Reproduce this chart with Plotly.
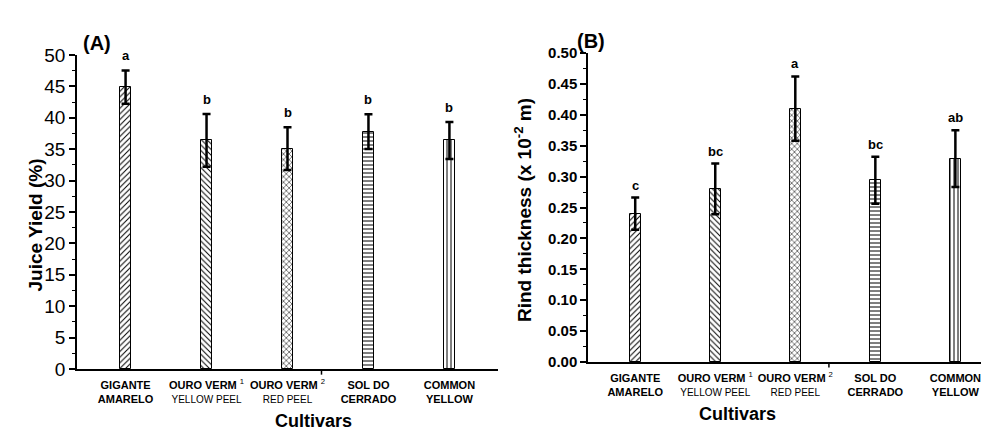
import plotly.graph_objects as go

cultivars = ["<b>GIGANTE</b><br><b>AMARELO</b>",
             "<b>OURO VERM </b><sup>1</sup><br><span style='font-size:10px'>YELLOW PEEL</span>",
             "<b>OURO VERM </b><sup>2</sup><br><span style='font-size:10px'>RED PEEL</span>",
             "<b>SOL DO</b><br><b>CERRADO</b>",
             "<b>COMMON</b><br><b>YELLOW</b>"]
cat_pos = [0, 1, 2, 3, 4]
juice = [44.9, 36.4, 35.1, 37.8, 36.4]
juice_err = [2.65, 4.2, 3.4, 2.75, 2.95]
juice_letters = ["a", "b", "b", "b", "b"]
rind = [0.240, 0.280, 0.410, 0.294, 0.329]
rind_err = [0.026, 0.041, 0.052, 0.038, 0.046]
rind_letters = ["c", "bc", "a", "bc", "ab"]
patterns = ["/", "\\", "x", "-", "|"]
FONT = "Liberation Sans, Arial, sans-serif"

# page body has an 8px margin: figure drawn at (8,8)
OFF = 8
W, H = 989 - OFF, 428 - OFF
def px(x):
    return (x - OFF) / W
def py(y):
    return 1 - (y - OFF) / H

fig = go.Figure()

def add_bars(y, err, xa, ya, width):
    fig.add_trace(go.Bar(
        x=cat_pos, y=y, width=width, xaxis=xa, yaxis=ya,
        marker=dict(color="white", line=dict(color="black", width=1),
                    pattern=dict(shape=patterns, fgcolor="black", bgcolor="white",
                                 size=4, solidity=0.25, fillmode="replace")),
        error_y=dict(type="data", array=err, visible=True, color="black",
                     thickness=2.5, width=4),
        showlegend=False))

add_bars(juice, juice_err, "x", "y", 0.135)
add_bars(rind, rind_err, "x2", "y2", 0.14)

ann = []
for i in range(5):
    ann.append(dict(x=cat_pos[i], y=juice[i] + juice_err[i], xref="x", yref="y",
                    text="<b>%s</b>" % juice_letters[i], showarrow=False,
                    yanchor="bottom", yshift=5, font=dict(size=13, family=FONT, color="black")))
    ann.append(dict(x=cat_pos[i], y=rind[i] + rind_err[i], xref="x2", yref="y2",
                    text="<b>%s</b>" % rind_letters[i], showarrow=False,
                    yanchor="bottom", yshift=3, font=dict(size=13, family=FONT, color="black")))

ann += [
    dict(x=px(81), y=py(30), xref="paper", yref="paper", text="<b>(A)</b>", showarrow=False,
         font=dict(size=20, family=FONT, color="black")),
    dict(x=px(591), y=py(28), xref="paper", yref="paper", text="<b>(B)</b>", showarrow=False,
         font=dict(size=20, family=FONT, color="black")),
    dict(x=px(22), y=py(225), xref="paper", yref="paper", text="<b>Juice Yield (%)</b>",
         textangle=-90, showarrow=False, font=dict(size=19, family=FONT, color="black")),
    dict(x=px(523), y=py(210), xref="paper", yref="paper",
         text="<b>Rind thickness (x 10<sup>-2</sup> m)</b>",
         textangle=-90, showarrow=False, font=dict(size=19, family=FONT, color="black")),
    dict(x=px(273), y=py(421), xref="paper", yref="paper", text="<b>Cultivars</b>",
         showarrow=False, yanchor="middle", font=dict(size=18, family=FONT, color="black")),
    dict(x=px(778), y=py(414), xref="paper", yref="paper", text="<b>Cultivars</b>",
         showarrow=False, yanchor="middle", font=dict(size=18, family=FONT, color="black")),
]

shapes = [
    dict(type="line", xref="x", yref="y domain", x0=2.42, x1=2.42, y0=0, y1=-0.018,
         line=dict(color="black", width=1.5)),
    dict(type="line", xref="x2", yref="y2 domain", x0=2.42, x1=2.42, y0=0, y1=-0.018,
         line=dict(color="black", width=1.5)),
]

xcommon = dict(tickmode="array", tickvals=cat_pos, ticktext=cultivars, ticks="",
               tickangle=0, automargin=False, ticklabelstandoff=5,
               showline=True, linecolor="black", linewidth=1.5, showgrid=False, zeroline=False,
               tickfont=dict(size=11, family=FONT, color="black"))

fig.update_layout(
    width=W, height=H, plot_bgcolor="white", paper_bgcolor="white",
    margin=dict(l=0, r=0, t=0, b=0), bargap=0,
    xaxis=dict(domain=[px(77), px(498)], range=[-0.6, 4.6], anchor="y", **xcommon),
    xaxis2=dict(domain=[px(588), 1.0], range=[-0.59, 4.42], anchor="y2", **xcommon),
    yaxis=dict(domain=[py(369), py(55)], range=[0, 50], dtick=5, anchor="x",
               automargin=False,
               ticks="outside", ticklen=6, tickwidth=1.5, tickcolor="black",
               showline=True, linecolor="black", linewidth=1.5, showgrid=False, zeroline=False,
               minor=dict(ticks="outside", ticklen=3, dtick=2.5, tickcolor="black", tickwidth=1),
               tickfont=dict(size=19, family=FONT, color="black")),
    yaxis2=dict(domain=[py(362), py(53)], range=[0, 0.5], dtick=0.05, tickformat=".2f",
                anchor="x2", automargin=False,
                ticks="outside", ticklen=6, tickwidth=1.5, tickcolor="black",
                showline=True, linecolor="black", linewidth=1.5, showgrid=False, zeroline=False,
                minor=dict(ticks="outside", ticklen=3, dtick=0.025, tickcolor="black", tickwidth=1),
                tickprefix="<b>", ticksuffix="</b>",
                tickfont=dict(size=15, family=FONT, color="black")),
    annotations=ann, shapes=shapes,
)

fig.write_html("out.html")
